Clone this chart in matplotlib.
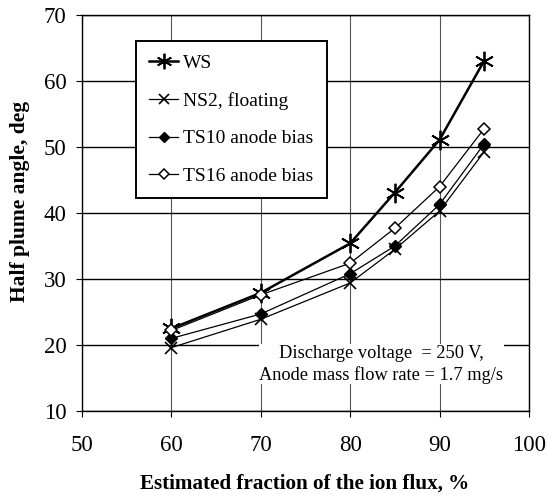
import numpy as np
import matplotlib.pyplot as plt

plt.rcParams['font.family'] = ['Liberation Serif', 'DejaVu Serif']

# data
flux = [60, 70, 80, 85, 90, 95]
ws = [22.5, 27.9, 35.4, 43.1, 51.1, 63.1]
ns2 = [19.6, 23.9, 29.4, 34.5, 40.3, 49.3]
ts10 = [21.0, 24.7, 30.8, 35.0, 41.3, 50.5]
ts16 = [22.2, 27.6, 32.4, 37.7, 44.0, 52.8]

fig = plt.figure(figsize=(5.48, 4.95), dpi=100)
ax = fig.add_axes([0.1496, 0.1697, 0.8157, 0.8])

ax.plot(flux, ws, color='black', lw=1.8, marker=(6, 2, 0), ms=14, mew=1.3,
        label='WS')
ax.plot(flux, ns2, color='black', lw=0.9, marker='x', ms=9, mew=1.2,
        label='NS2, floating')
ax.plot(flux, ts10, color='black', lw=0.9, marker='D', ms=6,
        mfc='black', mec='black', label='TS10 anode bias')
ax.plot(flux, ts16, color='black', lw=0.9, marker='D', ms=6,
        mfc='white', mec='black', mew=1.1, label='TS16 anode bias')

ax.set_xlim(50, 100)
ax.set_ylim(10, 70)
ax.set_xticks(np.arange(50, 101, 10))
ax.set_yticks(np.arange(10, 71, 10))
ax.grid(True, axis='y', color='black', lw=1.0)
ax.grid(True, axis='x', color='#555555', lw=0.8)
ax.tick_params(labelsize=16.5, length=4, width=0.8, direction='out')
ax.tick_params(axis='x', pad=13)
ax.tick_params(axis='y', pad=7)
for s in ax.spines.values():
    s.set_linewidth(1.0)

ax.set_xlabel('Estimated fraction of the ion flux, %', fontsize=15.2,
              fontweight='bold')
ax.xaxis.set_label_coords(0.497, -0.158)
ax.set_ylabel('Half plume angle, deg', fontsize=15.5, fontweight='bold')
ax.yaxis.set_label_coords(-0.116, 0.528)

ax.text(83.5, 17.1, 'Discharge voltage  = 250 V,\nAnode mass flow rate = 1.7 mg/s',
        ha='center', va='center', fontsize=13.2, linespacing=1.3,
        bbox=dict(facecolor='white', edgecolor='none', pad=0.5))

leg = ax.legend(loc='upper left', bbox_to_anchor=(0.1208, 0.9343),
                borderaxespad=0, fontsize=14, fancybox=False, framealpha=1,
                edgecolor='black', handlelength=1.5, handletextpad=0.25,
                labelspacing=1.03, borderpad=0.68, markerscale=0.8)
leg.get_frame().set_linewidth(1.4)

fig.savefig('out.png', dpi=100)
